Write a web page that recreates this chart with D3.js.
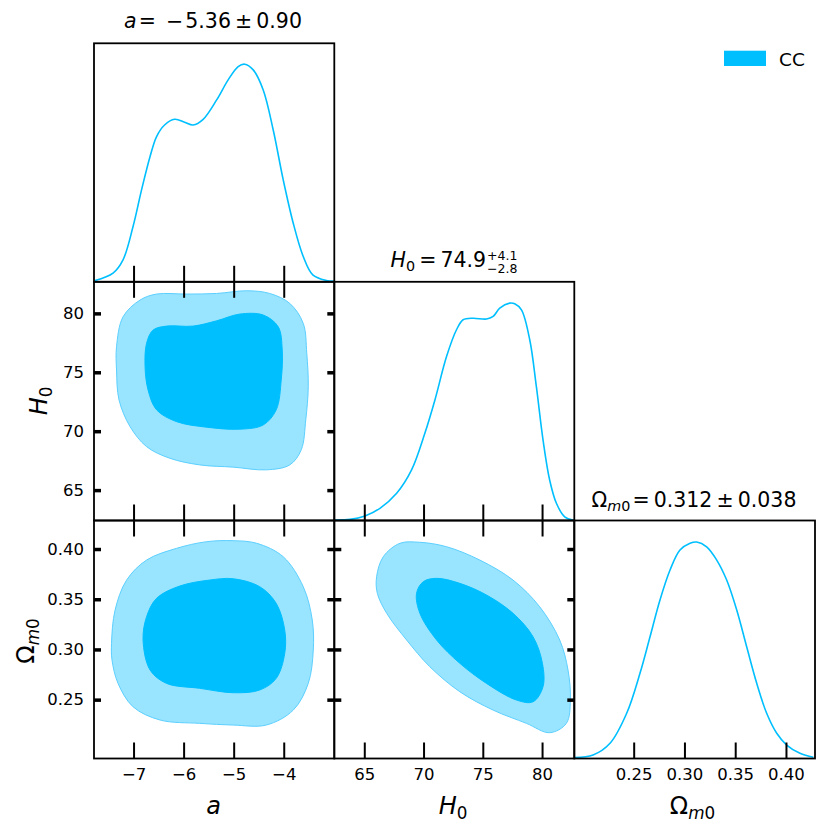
<!DOCTYPE html>
<html><head><meta charset="utf-8">
<script src="https://cdn.jsdelivr.net/npm/d3@7"></script>
<style>
body{margin:0;background:#fff}
svg{display:block}
text{font-family:"DejaVu Sans",sans-serif;fill:#000}
</style>
</head><body>
<svg id="c" width="830" height="836"></svg>
<script>
// ---------- data ----------
const paramNames = ["a", "H0", "Om"];
const aTicks = [-7, -6, -5, -4];
const h0Ticks = [65, 70, 75, 80];
const omTicks = [0.25, 0.30, 0.35, 0.40];
const legendLabels = ["CC"];
const titleValues = ["\u2212\u200a5.36\u2009\u00b1\u20090.90", "74.9", "0.312\u2009\u00b1\u20090.038"];
const h0Errors = ["+4.1", "\u22122.8"];

// 1D marginals: [value, normalized density]
const aMarginal = [[-7.77,0.006],[-7.41,0.040],[-7.21,0.101],[-7.01,0.254],[-6.84,0.422],[-6.67,0.575],[-6.54,0.667],[-6.38,0.720],[-6.18,0.746],[-5.98,0.733],[-5.81,0.720],[-5.61,0.746],[-5.34,0.835],[-5.11,0.927],[-4.91,0.988],[-4.78,0.999],[-4.61,0.973],[-4.41,0.881],[-4.21,0.697],[-4.01,0.468],[-3.81,0.269],[-3.61,0.116],[-3.42,0.032],[-3.15,0.006],[-3.0,0.003]];
const h0Marginal = [[62.53,0.002],[63.8,0.005],[65.06,0.021],[66.32,0.056],[67.73,0.125],[68.99,0.232],[70.11,0.400],[70.96,0.553],[71.94,0.752],[72.78,0.875],[73.34,0.921],[74.18,0.928],[75.31,0.924],[75.87,0.936],[76.43,0.974],[77.27,0.997],[77.69,0.994],[78.26,0.966],[78.96,0.829],[79.52,0.614],[80.08,0.370],[80.64,0.186],[81.21,0.079],[81.91,0.017],[82.61,0.002]];
const omMarginal = [[0.192,0.004],[0.210,0.016],[0.2267,0.070],[0.2431,0.208],[0.2562,0.392],[0.2661,0.560],[0.2759,0.729],[0.2858,0.867],[0.2956,0.959],[0.3055,0.990],[0.3121,0.996],[0.3219,0.974],[0.3318,0.913],[0.3416,0.821],[0.3515,0.683],[0.3613,0.514],[0.3712,0.346],[0.3810,0.208],[0.3909,0.116],[0.4007,0.062],[0.4138,0.024],[0.4270,0.006]];

// 2D contours: [x, y] in data units
const aH0Outer = [[-7.34,77.17],[-7.21,79.71],[-6.87,81.13],[-6.54,81.64],[-5.94,81.64],[-5.34,81.69],[-4.74,81.92],[-4.28,81.69],[-3.88,80.85],[-3.61,79.15],[-3.54,76.61],[-3.51,73.78],[-3.56,70.96],[-3.65,68.42],[-3.88,67.14],[-4.35,66.72],[-5.01,66.95],[-5.68,67.14],[-6.28,67.71],[-6.74,68.69],[-7.07,70.39],[-7.29,72.65],[-7.34,75.19]];
const aH0Inner = [[-6.74,77.46],[-6.61,78.58],[-6.34,78.92],[-5.81,78.92],[-5.34,79.37],[-4.88,79.94],[-4.41,79.86],[-4.11,78.86],[-4.03,76.89],[-4.05,74.35],[-4.15,71.81],[-4.41,70.53],[-4.88,70.17],[-5.54,70.34],[-6.14,70.81],[-6.54,71.81],[-6.71,73.5],[-6.77,75.48]];
const aOmOuter = [[-7.44,0.306],[-7.37,0.339],[-7.14,0.369],[-6.74,0.389],[-6.14,0.4007],[-5.54,0.4073],[-5.01,0.4083],[-4.54,0.4057],[-4.01,0.3923],[-3.61,0.3625],[-3.43,0.3293],[-3.41,0.2994],[-3.51,0.2662],[-3.81,0.2396],[-4.35,0.2247],[-5.01,0.2247],[-5.68,0.2264],[-6.47,0.2297],[-7.01,0.2429],[-7.31,0.2662],[-7.43,0.2894]];
const aOmInner = [[-6.81,0.3094],[-6.74,0.3326],[-6.54,0.3509],[-6.08,0.3631],[-5.48,0.3691],[-5.01,0.3704],[-4.48,0.3625],[-4.15,0.3459],[-3.98,0.3193],[-3.98,0.2961],[-4.15,0.2712],[-4.48,0.2596],[-5.01,0.2569],[-5.68,0.2613],[-6.34,0.2662],[-6.67,0.2795]];
const h0OmOuter = [[66.04,0.3724],[66.6,0.3923],[68.01,0.4057],[69.69,0.4067],[71.94,0.4023],[74.75,0.389],[77.55,0.3691],[79.8,0.3425],[81.49,0.3094],[82.19,0.2795],[82.39,0.2496],[82.05,0.2264],[80.64,0.2171],[78.68,0.2264],[75.87,0.2396],[73.06,0.2579],[70.53,0.2828],[68.57,0.3094],[66.89,0.336],[66.1,0.3559]];
const h0OmInner = [[69.41,0.3559],[69.97,0.3674],[71.1,0.3708],[73.06,0.3658],[75.31,0.3542],[77.55,0.336],[79.24,0.3127],[80.03,0.2862],[80.08,0.2629],[79.24,0.2479],[77.84,0.2496],[75.31,0.2662],[73.06,0.2862],[71.1,0.3094],[69.69,0.336]];

// ---------- layout ----------
const C = [94, 334.3, 574.3, 815];
const R = [43.3, 281.8, 520.5, 758.5];
const colInner = "#00bfff", colOuter = "#99e4ff", colOuterStroke = "#5ccfff";

const svg = d3.select("#c");
const xA = d3.scaleLinear().domain([-7.79, -2.99]).range([C[0], C[1]]);
const xH = d3.scaleLinear().domain([62.47, 82.72]).range([C[1], C[2]]);
const xO = d3.scaleLinear().domain([0.1915, 0.4286]).range([C[2], C[3]]);
const yH = d3.scaleLinear().domain([62.42, 82.68]).range([R[2], R[1]]);
const yO = d3.scaleLinear().domain([0.1914, 0.4284]).range([R[3], R[2]]);
const y1 = [0,1,2].map(i => d3.scaleLinear().domain([0, 1.095]).range([R[i+1], R[i]]));

const xs = [xA, xH, xO], ys = [null, yH, yO];
const xt = [aTicks, h0Ticks, omTicks];

const defs = svg.append("defs");
function clipFor(r, c) {
  const id = `clip${r}${c}`;
  defs.append("clipPath").attr("id", id).append("rect")
    .attr("x", C[c]).attr("y", R[r]).attr("width", C[c+1]-C[c]).attr("height", R[r+1]-R[r]);
  return `url(#${id})`;
}

function contourPanel(r, c, outer, inner) {
  const x = xs[c], y = ys[r];
  const g = svg.append("g").attr("clip-path", clipFor(r, c));
  const line = d3.line().x(d => x(d[0])).y(d => y(d[1])).curve(d3.curveCatmullRomClosed.alpha(0.5));
  g.append("path").attr("d", line(outer)).attr("fill", colOuter).attr("stroke", colOuterStroke).attr("stroke-width", 1);
  g.append("path").attr("d", line(inner)).attr("fill", colInner).attr("stroke", colInner).attr("stroke-width", 1);
}
contourPanel(1, 0, aH0Outer, aH0Inner);
contourPanel(2, 0, aOmOuter, aOmInner);
contourPanel(2, 1, h0OmOuter, h0OmInner);

function marginalPanel(i, data) {
  const x = xs[i], y = y1[i];
  const g = svg.append("g").attr("clip-path", clipFor(i, i));
  const line = d3.line().x(d => x(d[0])).y(d => y(d[1])).curve(d3.curveCatmullRom.alpha(0.5));
  g.append("path").attr("d", line(data)).attr("fill", "none").attr("stroke", colInner).attr("stroke-width", 1.6);
}
marginalPanel(0, aMarginal);
marginalPanel(1, h0Marginal);
marginalPanel(2, omMarginal);

// ticks
function cleanAxis(sel, w) {
  sel.select(".domain").remove();
  sel.selectAll(".tick line").attr("stroke", "#000").attr("stroke-width", w);
}
const XT = 16, YT = 7;
const panels = [[0,0],[1,0],[1,1],[2,0],[2,1],[2,2]];
panels.forEach(([r, c]) => {
  svg.append("g").attr("transform", `translate(0,${R[r+1]})`)
    .call(d3.axisBottom(xs[c]).tickValues(xt[c]).tickSize(-XT).tickFormat(""))
    .call(s => cleanAxis(s, 2));
  if (r !== c) {
    svg.append("g").attr("transform", `translate(0,${R[r]})`)
      .call(d3.axisTop(xs[c]).tickValues(xt[c]).tickSize(-XT).tickFormat(""))
      .call(s => cleanAxis(s, 2));
    const yt = xt[r];
    svg.append("g").attr("transform", `translate(${C[c]},0)`)
      .call(d3.axisLeft(ys[r]).tickValues(yt).tickSize(-YT).tickFormat(""))
      .call(s => cleanAxis(s, 3.5));
    svg.append("g").attr("transform", `translate(${C[c+1]},0)`)
      .call(d3.axisRight(ys[r]).tickValues(yt).tickSize(-YT).tickFormat(""))
      .call(s => cleanAxis(s, 3.5));
  }
});

// tick labels
const TKF = 16.5;
const fmtX = [d3.format("d"), d3.format("d"), d3.format(".2f")];
function styleTickText(s) {
  s.select(".domain").remove();
  s.selectAll("text").attr("font-size", TKF).attr("font-family", "DejaVu Sans").attr("fill", "#000");
}
[0,1,2].forEach(c => {
  svg.append("g").attr("transform", `translate(0,${R[3]})`)
    .call(d3.axisBottom(xs[c]).tickValues(xt[c]).tickSize(0).tickPadding(9.5).tickFormat(fmtX[c]))
    .call(styleTickText);
});
[1,2].forEach(r => {
  svg.append("g").attr("transform", `translate(${C[0]},0)`)
    .call(d3.axisLeft(ys[r]).tickValues(xt[r]).tickSize(0).tickPadding(10).tickFormat(fmtX[r]))
    .call(styleTickText);
});

// frames
panels.forEach(([r, c]) => {
  svg.append("rect").attr("x", C[c]).attr("y", R[r]).attr("width", C[c+1]-C[c]).attr("height", R[r+1]-R[r])
    .attr("fill", "none").attr("stroke", "#000").attr("stroke-width", 1.8);
});

function symbol(t, name, size) {
  const sub = size * 0.22;
  if (name === "a") {
    t.append("tspan").attr("font-style", "italic").text("a");
    return 0;
  } else if (name === "H0") {
    t.append("tspan").attr("font-style", "italic").text("H");
    t.append("tspan").attr("font-size", size*0.7).attr("dy", sub).text("0");
    return sub;
  } else {
    t.append("tspan").text("\u03a9");
    t.append("tspan").attr("font-size", size*0.7).attr("dy", sub).attr("font-style", "italic").text("m");
    t.append("tspan").attr("font-size", size*0.7).text("0");
    return sub;
  }
}

// axis labels
const LF = 24;
const xLabPos = [213.5, 453, 692.5];
paramNames.forEach((n, i) => {
  const t = svg.append("text").attr("x", xLabPos[i]).attr("y", 813.5).attr("text-anchor", "middle").attr("font-size", LF);
  symbol(t, n, LF);
});
[[1, 47, 401], [2, 33.5, 641]].forEach(([i, x, y]) => {
  const t = svg.append("text").attr("transform", `translate(${x},${y}) rotate(-90)`).attr("text-anchor", "middle").attr("font-size", LF);
  symbol(t, paramNames[i], LF);
});

// titles
const TF = 20.5;
function centerGroup(g, cx) {
  const bb = g.node().getBBox();
  g.attr("transform", `translate(${cx - bb.x - bb.width/2},0)`);
}
{
  const g = svg.append("g");
  const t = g.append("text").attr("x", 0).attr("y", 28.3).attr("font-size", TF);
  symbol(t, "a", TF);
  t.append("tspan").text("\u200a=\u2002" + titleValues[0]);
  centerGroup(g, 213);
}
{
  const g = svg.append("g");
  const t = g.append("text").attr("x", 0).attr("y", 266.7).attr("font-size", TF);
  const sh = symbol(t, "H0", TF);
  t.append("tspan").attr("dy", -sh).text("\u2009=\u2009" + titleValues[1]);
  const w = t.node().getComputedTextLength();
  g.append("text").attr("x", w + 1).attr("y", 259.6).attr("font-size", 12.5).text(h0Errors[0]);
  g.append("text").attr("x", w + 1).attr("y", 273).attr("font-size", 12.5).text(h0Errors[1]);
  centerGroup(g, 454);
}
{
  const g = svg.append("g");
  const t = g.append("text").attr("x", 0).attr("y", 506.7).attr("font-size", TF);
  const sh = symbol(t, "Om", TF);
  t.append("tspan").attr("dy", -sh).text("\u200a=\u2009" + titleValues[2]);
  centerGroup(g, 694);
}

// legend
svg.append("rect").attr("x", 724).attr("y", 50.7).attr("width", 42).attr("height", 15.3).attr("fill", colInner);
svg.append("text").attr("x", 779).attr("y", 66.3).attr("font-size", 18.5).text(legendLabels[0]);
</script>
</body></html>
